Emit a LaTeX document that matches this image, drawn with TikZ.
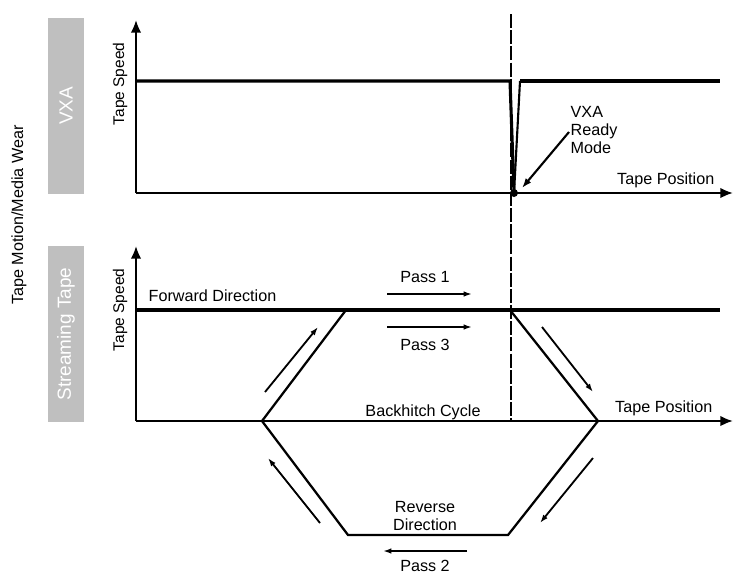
\documentclass[tikz,border=0pt]{standalone}
\usepackage{fontspec}
\setmainfont{Liberation Sans}
\usetikzlibrary{arrows.meta, positioning}

\begin{document}
\begin{tikzpicture}[
    x=0.025cm, y=-0.025cm,
    lbl/.style={font=\fontsize{11.5}{12.5}\selectfont, inner sep=1pt},
    ylbl/.style={font=\fontsize{11}{12}\selectfont, inner sep=1pt, rotate=90},
    band/.style={fill=black!25, text=white, rotate=90, inner sep=0pt,
        minimum width=4.42cm, minimum height=0.9cm, font=\fontsize{13.5}{14}\selectfont},
    axisline/.style={line width=1.5pt, -{Latex[length=9pt, width=7.5pt]}},
    speed/.style={line width=2.2pt},
    trace/.style={line width=1.6pt, line join=miter},
    dirarrow/.style={line width=1.3pt, -{Latex[length=6pt, width=4pt]}},
    guide/.style={line width=0.9pt, dash pattern=on 10pt off 1.5pt}
]
    \useasboundingbox (0,0) rectangle (734,574);

    % side labels
    \node[ylbl, font=\fontsize{11.5}{12.5}\selectfont] (wear) at (19,215) {Tape Motion/Media Wear};
    \node[band] (vxa) at (66,106) {VXA};
    \node[band] (stream) at (66,334) {Streaming Tape};

    % VXA chart
    \coordinate (o1) at (136,193);
    \coordinate (y1) at (136,20);
    \coordinate (x1) at (733,193);
    \coordinate (s1) at (136,81);
    \coordinate (stop) at (510,81);
    \coordinate (low) at (514,193);
    \coordinate (up) at (520,81);
    \coordinate (e1) at (720,81);

    \draw[axisline] (o1) -- (y1);
    \draw[axisline] (o1) -- (x1);
    \draw[speed] (s1) -- (stop) -- (low);
    \draw[line width=1.5pt] (low) -- (up);
    \draw[speed] (up) -- (e1);
    \fill (low) circle (4);

    \node[ylbl] (spd1) at (120,84) {Tape Speed};
    \node[lbl, anchor=south east] (pos1) at (716,190) {Tape Position};
    \node[lbl, align=left, anchor=west] (ready) at (569,130) {VXA\\Ready\\Mode};
    \draw[line width=1.5pt, -{Latex[length=7pt, width=5pt]}] (ready.west) ++(0,2) -- (522,188);

    % streaming chart
    \coordinate (o2) at (136,421);
    \coordinate (y2) at (136,246);
    \coordinate (x2) at (733,421);
    \coordinate (s2) at (136,310);
    \coordinate (e2) at (720,310);

    \draw[axisline] (o2) -- (y2);
    \draw[axisline] (o2) -- (x2);
    \draw[speed] (s2) -- (e2);

    \coordinate (h1) at (346,310);
    \coordinate (h2) at (262,421);
    \coordinate (h3) at (348,535);
    \coordinate (h4) at (508,535);
    \coordinate (h5) at (598,421);
    \coordinate (h6) at (510,310);
    \draw[trace] (h1) -- (h2) -- (h3) -- (h4) -- (h5) -- (h6);

    \coordinate (top) at (511,14);
    \draw[guide] (top) -- (511,421);

    \node[ylbl] (spd2) at (120,310) {Tape Speed};
    \node[lbl, anchor=south west] (fwd) at (147,303) {Forward Direction};
    \node[lbl, anchor=south east] (pos2) at (714,418) {Tape Position};
    \node[lbl] (back) at (423,412) {Backhitch Cycle};

    % passes
    \node[lbl] (p1) at (425,277) {Pass 1};
    \node[lbl] (p3) at (425,345) {Pass 3};
    \node[lbl, align=center, font=\fontsize{11.5}{13}\selectfont] (rev) at (425,516) {Reverse\\Direction};
    \node[lbl] (p2) at (425,566) {Pass 2};

    \draw[dirarrow] (387,294) -- (472,294);
    \draw[dirarrow] (387,327) -- (472,327);
    \draw[dirarrow] (467,551) -- (383,551);
    \draw[dirarrow] (265,392) -- (318,327);
    \draw[dirarrow] (320,523) -- (268,458);
    \draw[dirarrow] (542,327) -- (593,392);
    \draw[dirarrow] (593,458) -- (540,523);
\end{tikzpicture}
\end{document}
